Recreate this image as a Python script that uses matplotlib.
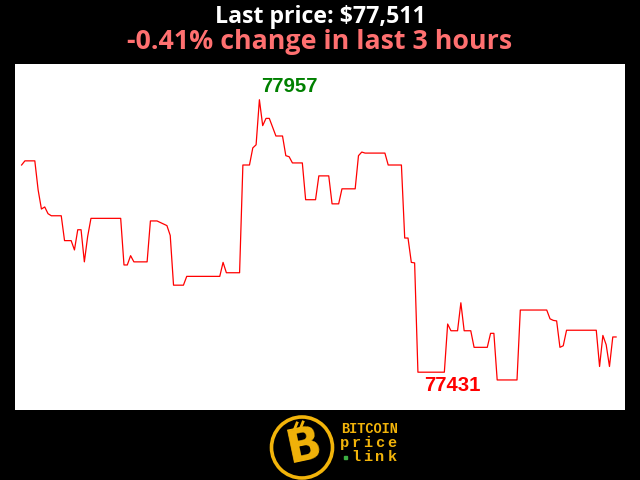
import matplotlib
matplotlib.use('Agg')
import matplotlib.pyplot as plt
from matplotlib.patches import Circle, Rectangle

# minutes since start of the 3 hour window
minutes = [0, 1, 4, 5, 6, 7, 8, 9, 12, 13, 15, 16, 17, 18, 19, 20, 21, 30, 31, 32,
           33, 34, 38, 39, 41, 43, 44, 45, 46, 49, 50, 60, 61, 62, 66, 67, 69, 70, 71, 72,
           73, 74, 75, 77, 79, 80, 81, 82, 85, 86, 89, 90, 93, 94, 96, 97, 101, 102, 103, 104,
           110, 111, 115, 116, 117, 118, 119, 120, 128, 129, 130, 132, 133, 134, 136, 137, 141, 142, 143, 144,
           150, 151, 159, 160, 161, 162, 163, 164, 165, 174, 175, 176, 177, 178, 179, 180]
prices = [77831, 77839, 77839, 77783, 77746, 77750, 77737, 77733, 77733, 77685, 77685, 77667, 77706, 77706, 77644, 77693, 77728, 77728, 77638, 77638,
          77656, 77644, 77644, 77723, 77723, 77717, 77714, 77695, 77599, 77599, 77616, 77616, 77643, 77623, 77623, 77831, 77831, 77864, 77870, 77957,
          77907, 77921, 77921, 77887, 77887, 77849, 77847, 77835, 77835, 77764, 77764, 77810, 77810, 77756, 77756, 77785, 77785, 77849, 77856, 77854,
          77854, 77831, 77831, 77690, 77690, 77643, 77642, 77431, 77431, 77524, 77511, 77511, 77565, 77511, 77511, 77479, 77479, 77506, 77506, 77416,
          77416, 77551, 77551, 77534, 77531, 77530, 77479, 77482, 77512, 77512, 77442, 77502, 77484, 77442, 77499, 77499]

last_price = 77511
change_pct = -0.41
max_label = '77957'
min_label = '77431'

gold = '#f2b40a'

fig = plt.figure(figsize=(6.4, 4.8), dpi=100, facecolor='black')

ax = fig.add_axes([15 / 640, 70 / 480, 610 / 640, 346 / 480])
ax.set_facecolor('white')
ax.plot(minutes, prices, color='red', lw=0.9)
ax.set_xlim(-2, 182.7)
ax.set_ylim(77358, 78026)
ax.set_xticks([])
ax.set_yticks([])
for s in ax.spines.values():
    s.set_visible(False)

i_max = prices.index(max(prices))
ax.annotate(max_label, xy=(minutes[i_max], prices[i_max]), xytext=(2, 8),
            textcoords='offset pixels', ha='left', va='baseline',
            color='green', fontsize=14.7, fontweight='bold', family='Liberation Sans')
i_min = prices.index(77431)
ax.annotate(min_label, xy=(minutes[i_min], prices[i_min]), xytext=(6, -4),
            textcoords='offset pixels', ha='left', va='top',
            color='red', fontsize=14.7, fontweight='bold', family='Liberation Sans')

fig.text(0.5, 1 - 17 / 480, 'Last price: ${:,}'.format(last_price), ha='center', va='center',
         color='white', fontsize=16.7, fontweight='bold', family='Open Sans')
fig.text(0.5, 1 - 42 / 480, '{:.2f}% change in last 3 hours'.format(change_pct), ha='center', va='center',
         color='#ff7070', fontsize=19.3, fontweight='bold', family='Open Sans')

# logo, drawn in pixel units
lg = fig.add_axes([265 / 640, 0, 140 / 640, 70 / 480])
lg.set_xlim(0, 140)
lg.set_ylim(0, 70)
lg.axis('off')
lg.add_patch(Circle((37, 32.5), 30.5, fill=False, ec=gold, lw=2.6))
lg.text(39, 33, 'B', ha='center', va='center', color=gold, fontsize=33,
        fontweight='bold', family='DejaVu Sans', rotation=12)
lg.plot([30, 32], [52, 57], color=gold, lw=2)
lg.plot([36, 38], [53, 58], color=gold, lw=2)
lg.text(76, 51, 'BITCOIN', ha='left', va='center', color=gold, fontsize=9.8,
        fontweight='bold', family='Liberation Mono')
for i, ch in enumerate('price'):
    lg.text(79 + i * 12, 37, ch, ha='center', va='center', color=gold,
            fontsize=11, fontweight='bold', family='Liberation Mono')
lg.add_patch(Rectangle((79, 21), 3, 3, color='#3cb043'))
for i, ch in enumerate('link'):
    lg.text(91 + i * 12, 23, ch, ha='center', va='center', color=gold,
            fontsize=11, fontweight='bold', family='Liberation Mono')

plt.savefig('out.png', dpi=100, facecolor='black')
